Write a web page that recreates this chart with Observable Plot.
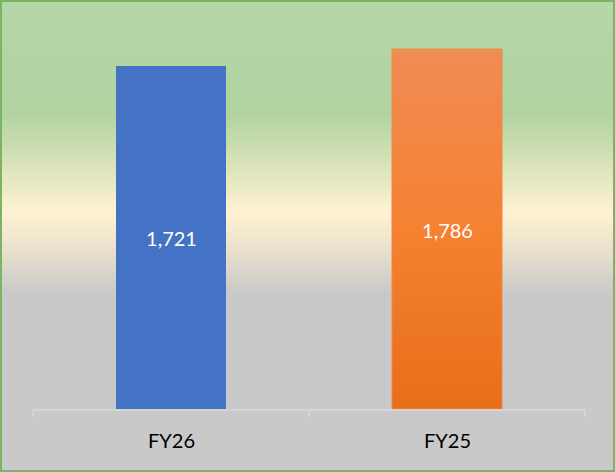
<!DOCTYPE html>
<html>
<head>
<meta charset="utf-8">
<script src="https://cdn.jsdelivr.net/npm/d3@7"></script>
<script src="https://cdn.jsdelivr.net/npm/@observablehq/plot@0.6"></script>
<style>
  html, body { margin: 0; padding: 0; background: #fff; }
  #chart svg { display: block; }
</style>
</head>
<body>
<div id="chart"></div>
<script>
const categories = ["FY26", "FY25"];
const values = [1721, 1786];
const yDomain = [400, 1900];

const data = categories.map((c, i) => ({cat: c, value: values[i]}));

const defsMark = () => {
  const g = d3.create("svg:g");
  const grad = g.append("defs").append("linearGradient")
    .attr("id", "og").attr("x1", 0).attr("y1", 0).attr("x2", 0).attr("y2", 1);
  grad.append("stop").attr("offset", "0%").attr("stop-color", "#f08c55");
  grad.append("stop").attr("offset", "50%").attr("stop-color", "#f58131");
  grad.append("stop").attr("offset", "100%").attr("stop-color", "#e86e1a");
  return g.node();
};

const tickMark = (index, scales, values, dims) => {
  const g = d3.create("svg:g").attr("stroke", "#d9d9d9").attr("stroke-width", 1.5);
  const x0 = dims.marginLeft, x1 = dims.width - dims.marginRight;
  const y = dims.height - dims.marginBottom + 1;
  g.append("line").attr("x1", x0).attr("x2", x1).attr("y1", y).attr("y2", y);
  const n = categories.length;
  for (let i = 0; i <= n; i++) {
    const x = x0 + (x1 - x0) * i / n;
    g.append("line").attr("x1", x).attr("x2", x).attr("y1", y).attr("y2", y + 7);
  }
  return g.node();
};

const chart = Plot.plot({
  width: 615,
  height: 472,
  marginTop: 19.5,
  marginBottom: 63,
  marginLeft: 33,
  marginRight: 30,
  style: {
    background: "linear-gradient(to bottom, #b5d6a7 0%, #b1d3a0 24%, #fff2d2 45%, #e9e1cd 53%, #c9c9c9 62%, #c9c9c9 100%)",
    outline: "2px solid #7db366",
    outlineOffset: "-2px",
    fontFamily: "Lato, 'Open Sans', sans-serif"
  },
  x: {domain: categories, paddingInner: 0.6, paddingOuter: 0.3, axis: null},
  y: {domain: yDomain, axis: null},
  marks: [
    defsMark,
    Plot.barY(data, {filter: d => d.cat === "FY26", x: "cat", y1: yDomain[0], y2: "value", fill: "#4472C4"}),
    Plot.barY(data, {filter: d => d.cat === "FY25", x: "cat", y1: yDomain[0], y2: "value", fill: "url(#og)", stroke: "#ee8a40", strokeWidth: 1}),
    tickMark,
    Plot.text(data, {x: "cat", y: d => (yDomain[0] + d.value) / 2, text: d => d3.format(",")(d.value), fill: "white", fontSize: 20, dy: 2}),
    Plot.text(data, {x: "cat", y: yDomain[0], text: "cat", fill: "#000", fontSize: 20, dy: 32})
  ]
});

document.getElementById("chart").appendChild(chart);
</script>
</body>
</html>
